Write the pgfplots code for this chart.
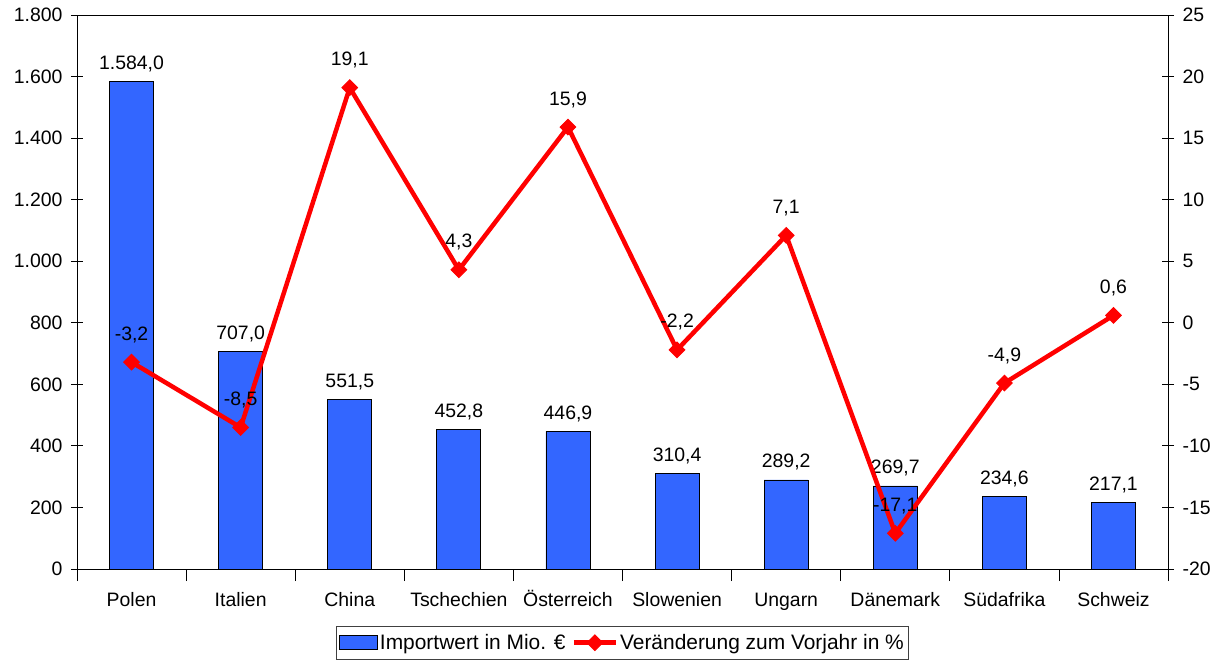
\documentclass[border=0pt]{standalone}
\usepackage{fontspec}
\setmainfont{Liberation Sans}
\usepackage{pgfplots}
\pgfplotsset{compat=1.18}
\definecolor{barblue}{HTML}{3366FF}
\definecolor{lred}{HTML}{FF0000}
\newcommand{\cf}{\fontsize{19.5}{23}\selectfont}
\newcommand{\lf}{\fontsize{21}{25}\selectfont}
\pgfplotsset{
  linelegend/.style={legend image code/.code={\draw[mark repeat=2,mark phase=2,##1] plot coordinates {(0bp,0bp) (21bp,0bp) (42bp,0bp)};}},
  barlegend/.style={legend image code/.code={\draw[fill=barblue,draw=black,line width=0.8bp] (0bp,-7bp) rectangle (38bp,7bp);}},
}
\begin{document}
\begin{tikzpicture}
\path[use as bounding box] (-77bp,-91bp) rectangle (1146bp,569bp);
\pgfplotsset{
  every axis/.append style={
    scale only axis, width=1091bp, height=554bp,
    at={(0,0)}, anchor=south west,
    xmin=-0.5, xmax=9.5,
    tick align=center, major tick length=12bp,
    tick style={black, line width=0.8bp},
    axis line style={line width=0.8bp},
    /pgf/number format/assume math mode=true,
    tick label style={font=\cf},
  },
}
\begin{axis}[
  ymin=0, ymax=1800, ytick={0,200,...,1800},
  yticklabel style={/pgf/number format/1000 sep={.}, xshift=-5bp},
  ytick pos=left,
  xtick={-0.5,0.5,...,9.5}, xticklabels={},
  xtick pos=bottom,
  xticklabel style={anchor=base, yshift=-37bp},
  extra x ticks={0,...,9},
  extra x tick labels={Polen,Italien,China,Tschechien,Österreich,Slowenien,Ungarn,Dänemark,Südafrika,Schweiz},
  extra x tick style={major tick length=0pt},
  ybar, bar width=44bp,
  nodes near coords={\pgfmathprintnumber[fixed,fixed zerofill,precision=1,use comma,1000 sep={.}]{\pgfplotspointmeta}},
  nodes near coords align={anchor=base},
  every node near coord/.append style={font=\cf, text=black, yshift=12bp},
]
\addplot[fill=barblue, draw=black, line width=0.8bp] coordinates {
(0,1584.0) (1,707.0) (2,551.5) (3,452.8) (4,446.9) (5,310.4) (6,289.2) (7,269.7) (8,234.6) (9,217.1)};
\end{axis}
\begin{axis}[
  ymin=-20, ymax=25, ytick={-20,-15,...,25},
  yticklabel style={xshift=5bp},
  axis x line=none, axis y line*=right,
  legend columns=2,
  legend style={at={(0.5,-0.1029)}, anchor=north, draw=black!75, line width=0.8bp, font=\lf,
    /tikz/every even column/.append style={column sep=4bp}, inner xsep=3bp, inner ysep=6bp},
  nodes near coords={\pgfmathprintnumber[fixed,fixed zerofill,precision=1,use comma]{\pgfplotspointmeta}},
  nodes near coords align={anchor=base},
  every node near coord/.append style={font=\cf, text=black, yshift=22bp},
]
\addlegendimage{barlegend}
\addlegendentry{Importwert in Mio. €}
\addplot[lred, line width=4.5bp, mark=square*, mark size=5.5bp, mark options={rotate=45, solid, line width=1bp},
  linelegend]
coordinates {
(0,-3.2) (1,-8.5) (2,19.1) (3,4.3) (4,15.9) (5,-2.2) (6,7.1) (7,-17.1) (8,-4.9) (9,0.6)};
\addlegendentry{Veränderung zum Vorjahr in \%}
\end{axis}
\end{tikzpicture}
\end{document}
